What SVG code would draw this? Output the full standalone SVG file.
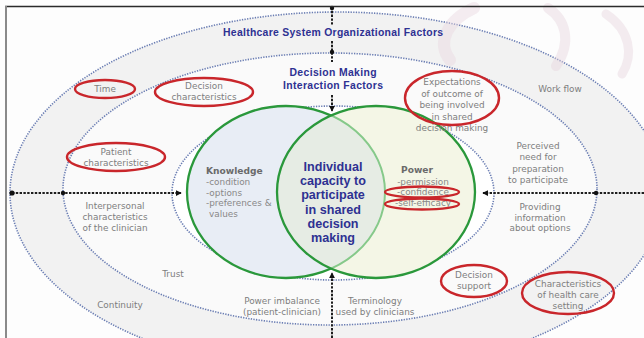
<svg xmlns="http://www.w3.org/2000/svg" width="644" height="338" viewBox="0 0 644 338">
  <style>
    .ring { stroke: #6a7db3; stroke-width: 1.6; stroke-dasharray: 1.3 1.3; }
    .lbl { font-family: "DejaVu Sans", Verdana, sans-serif; font-size: 8.9px; fill: #7e7e7e; text-anchor: middle; }
    .head { font-family: "Liberation Sans", Arial, sans-serif; font-size: 10.4px; font-weight: bold; fill: #2e3192; text-anchor: middle; }
    .core { font-family: "Liberation Sans", Arial, sans-serif; font-size: 12.6px; font-weight: bold; fill: #2e3192; text-anchor: middle; }
    .sub { font-family: "DejaVu Sans", Verdana, sans-serif; font-size: 9.1px; font-weight: bold; fill: #6a6a6a; }
    .item { font-family: "DejaVu Sans", Verdana, sans-serif; font-size: 8.9px; fill: #888888; }
    .mark { fill: none; stroke: #c9262b; stroke-width: 2.4; }
    .conn { stroke: #1e1e1e; stroke-width: 2; stroke-dasharray: 2.4 1.4; fill: none; }
    .dot { fill: #111; }
  </style>
  <defs>
    <marker id="arrow" viewBox="0 0 8 8" refX="7" refY="4" markerWidth="6" markerHeight="6" orient="auto" markerUnits="userSpaceOnUse">
      <path d="M0,0 L8,4 L0,8 z" fill="#111"/>
    </marker>
    <clipPath id="leftClip">
      <ellipse cx="286" cy="192" rx="99" ry="86"/>
    </clipPath>
    <clipPath id="rightClip">
      <ellipse cx="376" cy="192" rx="99" ry="86"/>
    </clipPath>
  </defs>

  <!-- page background -->
  <rect width="644" height="338" fill="#fdfdfd"/>

  <!-- nested factor rings -->
  <g id="rings">
    <ellipse id="ring-system" class="ring" cx="337" cy="193" rx="327" ry="181" fill="#f2f2f2"/>
    <ellipse id="ring-interaction" class="ring" cx="330" cy="189" rx="267" ry="136" fill="#fafafa"/>
    <ellipse id="ring-individual" class="ring" cx="333" cy="193" rx="161" ry="87" fill="#ffffff"/>
  </g>

  <!-- faint background swirl -->
  <g id="swirl" fill="none" stroke="#e8d6df" stroke-linecap="round" opacity="0.45">
    <path d="M474,8 C448,20 436,42 450,60" stroke-width="12"/>
    <path d="M548,8 C566,20 572,42 556,66" stroke-width="10"/>
    <path d="M606,14 C630,30 634,55 622,74" stroke-width="9"/>
  </g>

  <!-- Venn of knowledge and power -->
  <g id="venn">
    <ellipse id="knowledge-circle" cx="286" cy="192" rx="99" ry="86" fill="#e8edf5" stroke="#2a983b" stroke-width="2.3"/>
    <ellipse id="power-circle-fill" cx="376" cy="192" rx="99" ry="86" fill="#f4f6e6"/>
    <ellipse cx="376" cy="192" rx="99" ry="86" fill="#e6ece4" clip-path="url(#leftClip)"/>
    <ellipse cx="286" cy="192" rx="99" ry="86" fill="none" stroke="#86c98a" stroke-width="2" clip-path="url(#rightClip)"/>
    <ellipse id="power-circle" cx="376" cy="192" rx="99" ry="86" fill="none" stroke="#2a983b" stroke-width="2.3"/>
  </g>

  <!-- connectors -->
  <g id="connectors">
    <path class="conn" d="M332,7 V25"/>
    <path class="conn" d="M332,41 V62"/>
    <path class="conn" d="M332,95 V111" marker-end="url(#arrow)"/>
    <path class="conn" d="M12,193 H181" marker-end="url(#arrow)"/>
    <path class="conn" d="M644,193 H483" marker-end="url(#arrow)"/>
    <path class="conn" d="M332,338 V273" marker-end="url(#arrow)"/>
    <circle class="dot" cx="12" cy="193" r="2.6"/>
    <circle class="dot" cx="63" cy="193" r="2.2"/>
    <circle class="dot" cx="596" cy="193" r="2.2"/>
    <circle class="dot" cx="332" cy="52" r="2.2"/>
    <circle class="dot" cx="332" cy="8" r="2.2"/>
  </g>

  <!-- ring titles -->
  <g id="title-system"><text class="head" x="333" y="35.5" textLength="220">Healthcare System Organizational Factors</text></g>
  <g id="title-interaction">
    <text class="head" x="333" y="75.5" textLength="87">Decision Making</text>
    <text class="head" x="333" y="89" textLength="100">Interaction Factors</text>
  </g>

  <!-- outer ring factors -->
  <g id="n-time"><text class="lbl" x="105" y="92">Time</text><ellipse class="mark" cx="105" cy="89" rx="30" ry="9"/></g>
  <g id="n-workflow"><text class="lbl" x="560" y="92">Work flow</text></g>
  <g id="n-continuity"><text class="lbl" x="120" y="308">Continuity</text></g>
  <g id="n-setting">
    <text class="lbl" x="568" y="287">Characteristics</text>
    <text class="lbl" x="568" y="298">of health care</text>
    <text class="lbl" x="568" y="309">setting</text>
    <ellipse class="mark" cx="568" cy="293" rx="46" ry="21"/>
  </g>

  <!-- interaction ring factors -->
  <g id="n-decision-char">
    <text class="lbl" x="204" y="89">Decision</text>
    <text class="lbl" x="204" y="100">characteristics</text>
    <ellipse class="mark" cx="204" cy="92" rx="49" ry="14"/>
  </g>
  <g id="n-patient">
    <text class="lbl" x="116" y="155">Patient</text>
    <text class="lbl" x="116" y="166">characteristics</text>
    <ellipse class="mark" cx="116" cy="157" rx="49" ry="14"/>
  </g>
  <g id="n-expectations">
    <text class="lbl" x="452" y="85">Expectations</text>
    <text class="lbl" x="452" y="96.5">of outcome of</text>
    <text class="lbl" x="452" y="108">being involved</text>
    <text class="lbl" x="452" y="119.5">in shared</text>
    <text class="lbl" x="452" y="130.5">decision making</text>
    <ellipse class="mark" cx="452" cy="98" rx="47" ry="27"/>
  </g>
  <g id="n-perceived">
    <text class="lbl" x="538" y="149">Perceived</text>
    <text class="lbl" x="538" y="160">need for</text>
    <text class="lbl" x="538" y="172">preparation</text>
    <text class="lbl" x="538" y="183">to participate</text>
  </g>
  <g id="n-providing">
    <text class="lbl" x="540" y="210">Providing</text>
    <text class="lbl" x="540" y="221">information</text>
    <text class="lbl" x="540" y="231">about options</text>
  </g>
  <g id="n-interpersonal">
    <text class="lbl" x="115" y="209">Interpersonal</text>
    <text class="lbl" x="115" y="220">characteristics</text>
    <text class="lbl" x="115" y="231">of the clinician</text>
  </g>
  <g id="n-trust"><text class="lbl" x="173" y="277">Trust</text></g>
  <g id="n-power-imbalance">
    <text class="lbl" x="282" y="304">Power imbalance</text>
    <text class="lbl" x="282" y="315">(patient-clinician)</text>
  </g>
  <g id="n-terminology">
    <text class="lbl" x="375" y="304">Terminology</text>
    <text class="lbl" x="375" y="315">used by clinicians</text>
  </g>
  <g id="n-decision-support">
    <text class="lbl" x="474" y="278">Decision</text>
    <text class="lbl" x="474" y="289">support</text>
    <ellipse class="mark" cx="474" cy="281" rx="33" ry="16"/>
  </g>

  <!-- Venn contents -->
  <g id="n-knowledge">
    <text class="sub" x="206" y="174">Knowledge</text>
    <text class="item" x="206" y="185">-condition</text>
    <text class="item" x="206" y="195.5">-options</text>
    <text class="item" x="206" y="206">-preferences &amp;</text>
    <text class="item" x="209" y="217">values</text>
  </g>
  <g id="n-capacity">
    <text class="core" x="333" y="171">Individual</text>
    <text class="core" x="333" y="185.2">capacity to</text>
    <text class="core" x="333" y="199.4">participate</text>
    <text class="core" x="333" y="213.6">in shared</text>
    <text class="core" x="333" y="227.8">decision</text>
    <text class="core" x="333" y="242">making</text>
  </g>
  <g id="n-power">
    <text class="sub" x="417" y="173" text-anchor="middle">Power</text>
    <text class="item" x="423" y="185" text-anchor="middle">-permission</text>
    <text class="item" x="423" y="195" text-anchor="middle">-confidence</text>
    <text class="item" x="423" y="206" text-anchor="middle">-self-efficacy</text>
    <ellipse class="mark" cx="422" cy="192" rx="37" ry="5.5"/>
    <ellipse class="mark" cx="422" cy="204" rx="37" ry="5.5"/>
  </g>

  <!-- frame edges -->
  <g id="frame">
    <line x1="5" y1="6.5" x2="644" y2="6.5" stroke="#2b2b2b" stroke-width="1.6"/>
    <line x1="6" y1="6" x2="6" y2="338" stroke="#8a8a8a" stroke-width="2"/>
  </g>
</svg>
